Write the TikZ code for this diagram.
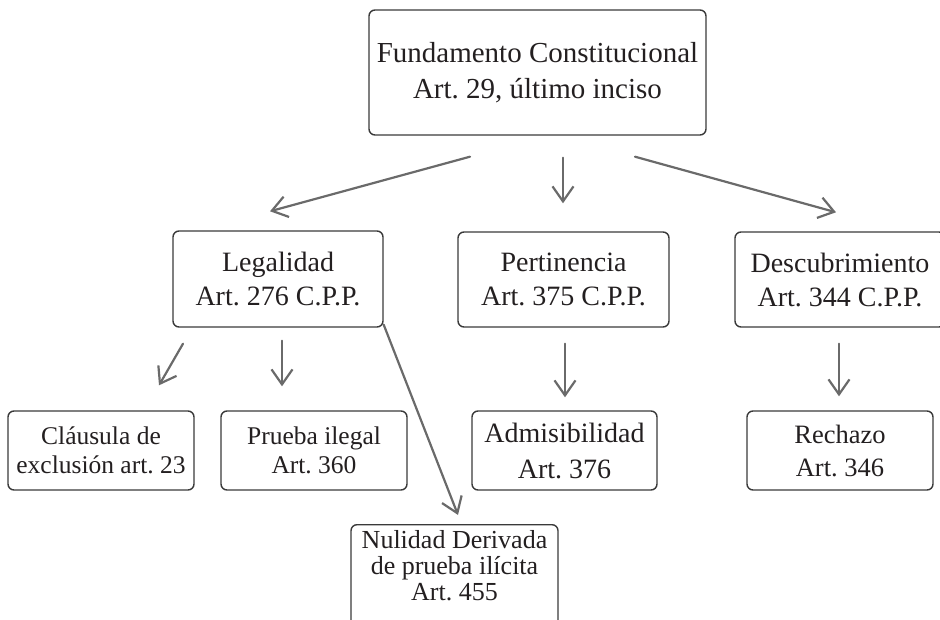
\documentclass[tikz,border=0pt]{standalone}
\usepackage{fontspec}
\setmainfont{Liberation Serif}
\usetikzlibrary{arrows.meta}
\frenchspacing
\definecolor{boxline}{HTML}{3A3A3A}
\definecolor{arrline}{HTML}{6A6A6A}
\definecolor{txt}{HTML}{231F20}
\tikzset{
  box/.style={draw=boxline, line width=1.4pt, rounded corners=6pt, align=center,
    text=txt, inner sep=0pt},
  arr/.style={draw=arrline, line width=2.2pt, line cap=round,
    -{Straight Barb[length=15pt,width=21pt,line width=2.2pt]}},
  fbig/.style={font=\fontsize{29}{36}\selectfont},
  fmid/.style={font=\fontsize{28}{34}\selectfont},
  fsmall/.style={font=\fontsize{25.5}{29}\selectfont},
}
\begin{document}
\begin{tikzpicture}[x=1pt,y=-1pt]
\useasboundingbox (0,0) rectangle (940,620);
% boxes
\node[box,fbig,minimum width=337pt,minimum height=125pt] (top) at (537.5,72.5)
  {Fundamento Constitucional\\ Art. 29, último inciso};
\node[box,fmid,minimum width=210pt,minimum height=96pt] (leg) at (278,279)
  {Legalidad\\ Art. 276 C.P.P.};
\node[box,fmid,minimum width=211pt,minimum height=95pt] (per) at (563.5,279.5)
  {Pertinencia\\ Art. 375 C.P.P.};
\node[box,fmid,minimum width=210pt,minimum height=95pt] (des) at (840,279.5)
  {Descubrimiento\\ Art. 344 C.P.P.};
\node[box,fsmall,minimum width=186pt,minimum height=79pt] (cla) at (101,450.5)
  {Cláusula de\\ exclusión art. 23};
\node[box,fsmall,minimum width=186pt,minimum height=79pt] (pru) at (314,450.5)
  {Prueba ilegal\\ Art. 360};
\node[box,font=\fontsize{28}{36}\selectfont,minimum width=185pt,minimum height=79pt] (adm) at (564.5,450.5)
  {Admisibilidad\\ Art. 376};
\node[box,font=\fontsize{26.5}{33}\selectfont,minimum width=186pt,minimum height=79pt] (rec) at (840,450.5)
  {Rechazo\\ Art. 346};
\node[box,minimum width=207pt,minimum height=104pt,anchor=north] (nul) at (454.5,524) {};
\node[align=center,text=txt,inner sep=0pt,font=\fontsize{26}{26}\selectfont,anchor=north] (nultxt) at ([yshift=-6pt]nul.north)
  {Nulidad Derivada\\ de prueba ilícita\\ Art. 455};
% arrows
\draw[arr] ([shift={(-67.5,21)}]top.south) -- ([shift={(-8,-19)}]leg.north);
\draw[arr] ([shift={(25.5,22)}]top.south) -- ([shift={(-0.5,-28)}]per.north);
\draw[arr] ([shift={(97.5,21)}]top.south) -- ([shift={(-4,-19)}]des.north);
\draw[arr] ([shift={(-95,16)}]leg.south) -- ([shift={(58,-25)}]cla.north);
\draw[arr] ([shift={(4,13)}]leg.south) -- ([shift={(-32,-24)}]pru.north);
\draw[arr] ([shift={(0,-3)}]leg.south east) -- ([shift={(3.5,-9)}]nul.north);
\draw[arr] ([shift={(1.5,16)}]per.south) -- ([shift={(0.5,-13)}]adm.north);
\draw[arr] ([shift={(-1,16)}]des.south) -- ([shift={(-1,-14)}]rec.north);
\end{tikzpicture}
\end{document}
